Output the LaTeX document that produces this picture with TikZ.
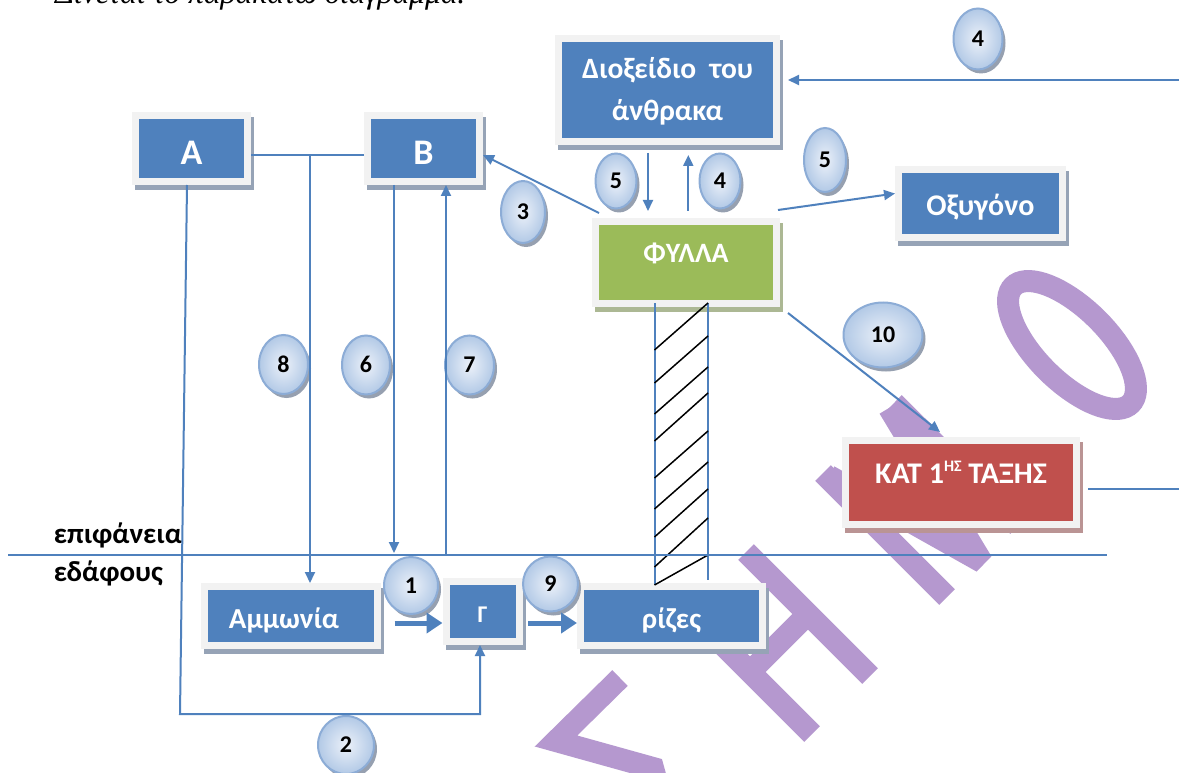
\documentclass[tikz,border=0pt]{standalone}
\usepackage{fontspec}
\setmainfont{Carlito}
\newfontfamily\serifit{Liberation Serif}
\usetikzlibrary{arrows.meta,shapes.geometric,calc}
\definecolor{boxblue}{RGB}{79,129,189}
\definecolor{boxgreen}{RGB}{155,187,89}
\definecolor{boxred}{RGB}{192,80,77}
\definecolor{framegray}{RGB}{242,242,242}
\definecolor{shblue}{RGB}{150,163,182}
\definecolor{shgreen}{RGB}{172,184,148}
\definecolor{shred}{RGB}{186,148,148}
\definecolor{linecol}{RGB}{79,129,189}
\definecolor{wmcol}{RGB}{181,152,207}
\definecolor{bubin}{RGB}{236,241,249}
\definecolor{bubout}{RGB}{178,201,230}
\definecolor{bubedge}{RGB}{140,172,214}
\definecolor{bubsh}{RGB}{150,160,176}
\tikzset{
  boxbase/.style 2 args={rectangle, fill=#1, draw=framegray, line width=7pt, inner sep=0pt, text=white,
    preaction={fill=#2, draw=#2, transform canvas={xshift=3pt,yshift=-5pt}}},
  bluebox/.style={boxbase={boxblue}{shblue}},
  greenbox/.style={boxbase={boxgreen}{shgreen}},
  redbox/.style={boxbase={boxred}{shred}},
  fs/.style={font=\bfseries\fontsize{#1}{#1}\selectfont},
  bub/.style={ellipse, inner sep=0pt, draw=bubedge, line width=2pt, inner color=bubin, outer color=bubout,
    text=black, font=\bfseries\fontsize{24}{24}\selectfont, text height=15pt, text depth=0pt,
    preaction={fill=bubsh, transform canvas={xshift=3pt,yshift=-4pt}}},
  conn/.style={draw=linecol, line width=2pt},
  arr/.style={conn, -{Triangle[length=11pt,width=10pt]}},
  thickarr/.style={draw=linecol, line width=5pt, -{Triangle[length=16pt,width=20pt]}},
  hatch/.style={draw=black, line width=1.5pt},
  wm/.style={draw=wmcol, line width=22pt},
  lbl/.style={inner sep=0pt, text=black, font=\bfseries\fontsize{29}{29}\selectfont}
}
\begin{document}
\begin{tikzpicture}[x=1pt,y=-1pt]
\path[use as bounding box] (0,0) rectangle (1179,773);
\fill[white] (0,0) rectangle (1179,773);

% watermark
\begin{scope}
\clip (0,0) rectangle (1179,773);
\draw[wm, line join=miter] (620,678)--(556,741)--(653,768)--(680,865)--(744,801);
\draw[wm] (812,734)--(688,610);
\draw[wm] (870,676)--(746,552);
\draw[wm] (750,672)--(808,614);
\draw[wm] (947,597)--(823,473);
\draw[wm] (1018,526)--(894,403);
\draw[wm, line join=bevel] (829,476)--(982,562)--(889,408);
\draw[wm] plot[domain=0:355, samples=72] ({1072+25.45*cos(\x)-58.68*sin(\x)},{345-25.45*cos(\x)-58.68*sin(\x)}) -- cycle;
\end{scope}

% title (cut at top, as in the reference)
\node[anchor=base west, inner sep=0pt, font=\serifit\itshape\fontsize{31.5}{34}\selectfont] (title) at (55,4) {Δίνεται το παρακάτω διάγραμμα.};

% boxes
\node[bluebox, minimum width=112pt, minimum height=66pt, fs=36, text height=33pt, text depth=0pt] (A) at (191.5,148.5) {Α};
\node[bluebox, minimum width=112pt, minimum height=66pt, fs=36, text height=33pt, text depth=0pt] (B) at (423.5,148.5) {Β};
\node[bluebox, minimum width=218pt, minimum height=103pt, align=center, font=\bfseries\fontsize{29.5}{41.7}\selectfont, text height=60.3pt, text depth=0pt] (D) at (667.5,90) {Διοξείδιο\ \ του\\άνθρακα};
\node[greenbox, minimum width=181pt, minimum height=82pt, fs=28, text height=18pt, text depth=18pt] (F) at (686,262.5) {ΦΥΛΛΑ};
\node[bluebox, minimum width=164pt, minimum height=68pt, fs=30, text height=23pt, text depth=0pt] (Ox) at (980.5,203.5) {Οξυγόνο};
\node[redbox, minimum width=231pt, minimum height=84pt, fs=30, text height=19pt, text depth=16.4pt] (K) at (961,482.5) {ΚΑΤ 1\raisebox{12pt}{\fontsize{16}{16}\selectfont ΗΣ} ΤΑΞΗΣ};
\node[bluebox, minimum width=173pt, minimum height=59pt, fs=29, text height=25pt, text depth=0pt] (Am) at (291,616) {Αμμωνία\hspace*{14pt}};
\node[bluebox, minimum width=73pt, minimum height=60pt, fs=24, text height=21.4pt, text depth=0pt] (G) at (482.5,611.5) {Γ};
\node[bluebox, minimum width=182pt, minimum height=59pt, fs=29, text height=24.6pt, text depth=0pt] (R) at (671.5,616) {ρίζες};

% bubbles
\node[bub, minimum width=49pt, minimum height=61pt] (b4t) at (978,39) {4};
\node[bub, minimum width=42pt, minimum height=64pt] (b5r) at (825,160) {5};
\node[bub, minimum width=41pt, minimum height=55pt] (b5m) at (616,181) {5};
\node[bub, minimum width=41pt, minimum height=55pt] (b4m) at (720,181) {4};
\node[bub, minimum width=44pt, minimum height=62pt] (b3) at (523,212) {3};
\node[bub, minimum width=49pt, minimum height=59pt] (b8) at (283.5,364.5) {8};
\node[bub, minimum width=48pt, minimum height=59pt] (b6) at (366,365) {6};
\node[bub, minimum width=49pt, minimum height=59pt] (b7) at (469.5,365) {7};
\node[bub, minimum width=54pt, minimum height=57pt] (b1) at (411,585.5) {1};
\node[bub, minimum width=55pt, minimum height=55pt] (b9) at (550.5,584) {9};
\node[bub, minimum width=56pt, minimum height=58pt] (b2) at (346,745) {2};
\node[bub, minimum width=79pt, minimum height=65pt] (b10) at (883,335) {10};

% labels
\node[lbl, anchor=base west] (ep) at (53.6,543) {επιφάνεια};
\node[lbl, anchor=base west] (ed) at (53.6,581.7) {εδάφους};

% coordinates
\coordinate (J) at (310,155);
\coordinate (c2a) at (180,714);
\coordinate (c2b) at (480,714);
\coordinate (s6) at (394,553);
\coordinate (s7) at (446,555);
\coordinate (e4) at (1179,80);
\coordinate (eK) at (1179,489);
\coordinate (S1) at (8,555);
\coordinate (S2) at (1107,555);

% stem
\draw[conn] ([xshift=-31.5pt,yshift=4pt]F.south) -- ([xshift=-17pt,yshift=-2pt]R.north);
\draw[conn] ([xshift=22pt,yshift=4pt]F.south) -- ([xshift=36.5pt,yshift=3pt]R.north);
\foreach \a/\b in {350/303,383/336,414/367,441/393,478/431,509/462,537/489,567/518,585/555}
  \draw[hatch] (654.5,\a) -- (708,\b);

% connectors
\draw[conn] (S1) -- (S2);
\draw[conn] ([yshift=-6.5pt]A.east) -- ([yshift=-6.5pt]B.west);
\draw[arr] (J) -- (J |- Am.north);
\draw[arr] ([xshift=-4.5pt]A.south) -- (c2a) -- (c2b) -- ([xshift=-2.5pt]G.south);
\draw[arr] ([xshift=-29.5pt]B.south) -- (s6);
\draw[arr] (s7) -- (s7 |- B.south);
\draw[arr] ([shift={(7pt,5pt)}]F.north west) -- ([yshift=-6.5pt]B.east);
\draw[arr] ([shift={(-19.5pt,-8pt)}]D.south) -- ([shift={(-38pt,7pt)}]F.north);
\draw[arr] ([shift={(2.3pt,7pt)}]F.north) -- ([shift={(20.8pt,-10pt)}]D.south);
\draw[arr] ([shift={(-2pt,8pt)}]F.north east) -- ([yshift=10pt]Ox.west);
\draw[arr] (e4) -- ([shift={(8pt,10pt)}]D.east);
\draw[arr] ([shift={(8pt,-6pt)}]F.south east) -- ([shift={(-21pt,5pt)}]K.north);
\draw[conn] ([shift={(8pt,-6.5pt)}]K.east) -- (eK);
\draw[thickarr] ([shift={(13.6pt,-7pt)}]Am.east) -- ([yshift=-11.5pt]G.west);
\draw[thickarr] ([shift={(5.7pt,-11.5pt)}]G.east) -- ([yshift=-7pt]R.west);
\end{tikzpicture}
\end{document}
